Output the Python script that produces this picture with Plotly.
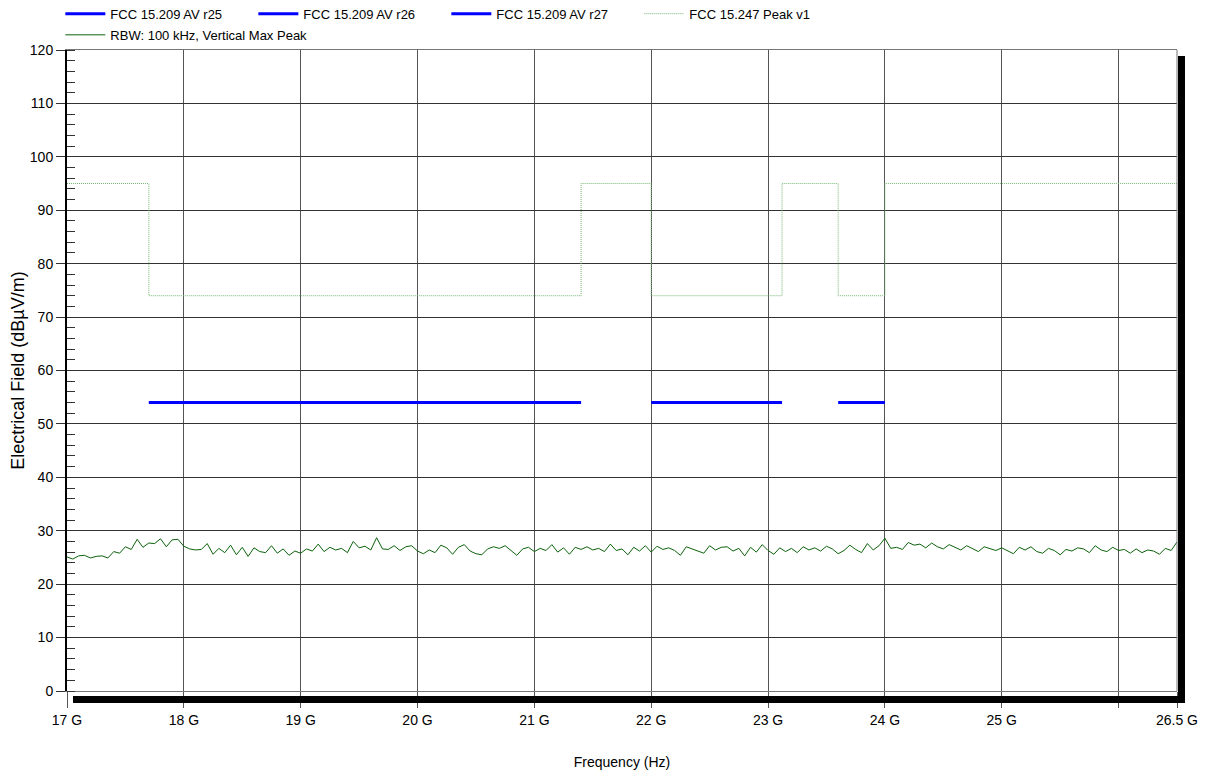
import numpy as np
import plotly.graph_objects as go

# ---- data ----
peak_freq_ghz = [17.0, 17.7, 17.7, 21.4, 21.4, 22.0, 22.0, 23.12, 23.12, 23.6, 23.6, 24.0, 24.0, 26.5]
peak_level = [95, 95, 74, 74, 95, 95, 74, 74, 95, 95, 74, 74, 95, 95]

av_r25_freq = [17.7, 21.4]
av_r26_freq = [22.0, 23.12]
av_r27_freq = [23.6, 24.0]
av_level = [54, 54]

noise_start_ghz = 17.0
noise_step_ghz = 0.05
noise_dbuv = [
    25.1, 24.7, 25.3, 25.4, 24.9, 25.2, 25.3, 24.9, 26.1, 25.8, 27.0, 26.5, 28.4, 26.9, 27.7, 27.6, 28.5, 27.0, 28.3, 28.4,
    27.1, 26.6, 26.4, 26.5, 27.6, 25.6, 26.7, 25.9, 27.3, 25.5, 26.9, 25.2, 26.8, 26.1, 25.9, 27.2, 25.8, 26.6, 25.4, 26.2,
    25.8, 26.6, 26.2, 27.5, 26.1, 26.9, 26.4, 26.7, 25.9, 28.0, 26.8, 27.1, 26.4, 28.7, 26.6, 26.5, 27.2, 26.3, 27.0, 27.2,
    26.2, 25.7, 26.4, 25.9, 27.3, 26.8, 25.6, 26.9, 27.4, 26.2, 25.7, 25.5, 26.6, 27.0, 26.7, 27.2, 26.3, 25.4, 26.6, 26.9,
    26.1, 26.7, 26.3, 27.4, 26.0, 26.8, 25.6, 26.9, 26.5, 27.0, 26.4, 26.7, 26.1, 27.5, 26.3, 26.6, 25.5, 26.9, 26.2, 27.2,
    26.0, 27.1, 26.5, 26.8, 26.3, 25.4, 27.0, 26.6, 26.2, 25.8, 27.2, 26.4, 26.9, 27.0, 26.2, 26.7, 25.3, 26.9, 26.0, 27.4,
    26.3, 25.6, 26.8, 26.1, 26.7, 25.9, 27.0, 26.4, 26.8, 26.2, 27.1, 26.6, 25.7, 26.3, 27.3, 26.5, 25.9, 27.6, 26.4, 27.2,
    28.6, 26.7, 26.9, 26.5, 27.8, 27.3, 27.5, 26.8, 27.7, 27.0, 26.6, 27.4, 26.9, 26.4, 27.2, 26.7, 26.1, 27.0, 26.6, 26.3,
    26.8, 26.2, 25.7, 26.9, 26.4, 27.0, 26.1, 25.8, 26.7, 26.3, 25.5, 26.5, 26.2, 26.8, 26.6, 25.9, 27.2, 26.4, 26.1, 26.9,
    26.3, 26.5, 25.8, 26.6, 25.9, 26.4, 26.2, 25.6, 26.7, 26.3, 27.9,
]

x_tick_ghz = [17, 18, 19, 20, 21, 22, 23, 24, 25, 26, 26.5]
x_tick_text = ["17 G", "18 G", "19 G", "20 G", "21 G", "22 G", "23 G", "24 G", "25 G", "", "26.5 G"]

noise_freq = noise_start_ghz + noise_step_ghz * np.arange(len(noise_dbuv))

FONT = "Liberation Sans, Arial, sans-serif"
BLUE = "#0000ff"

fig = go.Figure()
for name, fr in [("FCC 15.209 AV r25", av_r25_freq),
                 ("FCC 15.209 AV r26", av_r26_freq),
                 ("FCC 15.209 AV r27", av_r27_freq)]:
    fig.add_trace(go.Scatter(x=fr, y=av_level, mode="lines", name=name,
                             line=dict(color=BLUE, width=3), legend="legend"))
fig.add_trace(go.Scatter(x=peak_freq_ghz, y=peak_level, mode="lines", name="FCC 15.247 Peak v1",
                         line=dict(color="#74b874", width=1, dash="1px,1px"), legend="legend"))
fig.add_trace(go.Scatter(x=noise_freq, y=noise_dbuv, mode="lines", name="RBW: 100 kHz, Vertical Max Peak",
                         line=dict(color="#0b620b", width=1), legend="legend2"))

shapes = [
    # right border line
    dict(type="line", xref="paper", yref="paper", x0=1, x1=1, y0=0, y1=1,
         line=dict(color="#777777", width=1), layer="above"),
    # drop shadow bars
    dict(type="rect", xref="paper", yref="paper", x0=6/1110, x1=1 + 8/1110, y0=-5/641, y1=-12/641,
         fillcolor="black", line=dict(width=0), layer="above"),
    dict(type="rect", xref="paper", yref="paper", x0=1 + 1/1110, x1=1 + 8/1110, y0=1 - 6/641, y1=-12/641,
         fillcolor="black", line=dict(width=0), layer="above"),
]

fig.update_layout(
    width=1210, height=774,
    margin=dict(l=67, r=33, t=50, b=83, autoexpand=False),
    paper_bgcolor="white", plot_bgcolor="white",
    font=dict(family=FONT, size=14, color="black"),
    shapes=shapes,
    legend=dict(orientation="h", x=-0.006, y=1.080, xanchor="left", yanchor="top",
                entrywidth=138, entrywidthmode="pixels", itemwidth=40,
                font=dict(size=13), bgcolor="rgba(0,0,0,0)", tracegroupgap=0, itemclick=False),
    legend2=dict(orientation="h", x=-0.006, y=1.047, xanchor="left", yanchor="top",
                 itemwidth=40, font=dict(size=13), bgcolor="rgba(0,0,0,0)"),
    xaxis=dict(range=[17, 26.5], tickmode="array", tickvals=x_tick_ghz, ticktext=x_tick_text,
               ticks="outside", ticklen=16, tickcolor="#555555", tickwidth=1,
               showgrid=True, gridcolor="#555555", gridwidth=1,
               showline=True, linecolor="#777777", linewidth=1, mirror=True,
               zeroline=False, title=dict(text="Frequency (Hz)", standoff=30, font=dict(size=14)),
               tickfont=dict(size=14), automargin=False),
    yaxis=dict(range=[0, 120], tickmode="linear", tick0=0, dtick=10,
               ticks="outside", ticklen=9, tickcolor="#333333", tickwidth=1,
               showgrid=True, gridcolor="#333333", gridwidth=1,
               showline=True, linecolor="black", linewidth=2,
               zeroline=False,
               minor=dict(dtick=2, ticks="inside", ticklen=8, tickcolor="#333333", showgrid=False),
               title=dict(text="Electrical Field (dBµV/m)", standoff=1, font=dict(size=18)),
               tickfont=dict(size=14), automargin=False),
)

fig.write_html("out.html")
